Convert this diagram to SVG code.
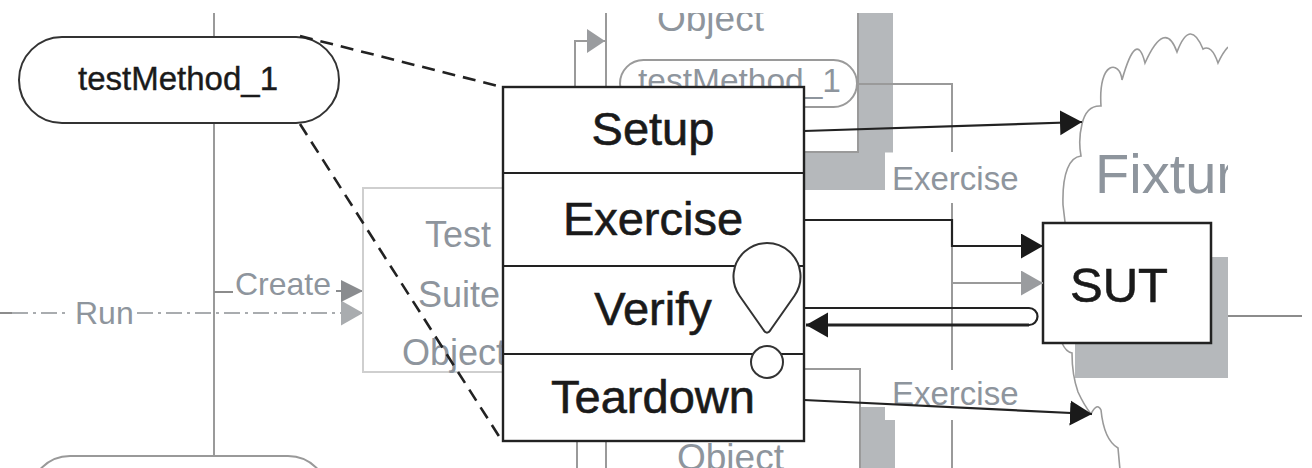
<svg xmlns="http://www.w3.org/2000/svg" width="1312" height="468" viewBox="0 0 1312 468">
<defs>
<style>
.dk{fill:none;stroke:#222;stroke-width:2.2}
.gl{fill:none;stroke:#9a9a9a;stroke-width:2}
.gt{font-family:"Liberation Sans",Arial,sans-serif;fill:#8e959d}
.bt{font-family:"Liberation Sans",Arial,sans-serif;fill:#1a1a1a;stroke:#1a1a1a;stroke-width:0.6}
.sh{fill:#b5b8bb}
.dash{fill:none;stroke:#222;stroke-width:2.6;stroke-dasharray:13 8}
</style>
<clipPath id="clip"><rect x="0" y="13" width="1228" height="455"/></clipPath>
<marker id="ah" markerUnits="userSpaceOnUse" markerWidth="23" markerHeight="26" refX="22" refY="12.5" orient="auto"><path d="M0,0 L22,12.5 L0,25 Z" fill="#1a1a1a"/></marker>
<marker id="ahg" markerUnits="userSpaceOnUse" markerWidth="23" markerHeight="26" refX="22" refY="12.5" orient="auto"><path d="M0,0 L22,12.5 L0,25 Z" fill="#9a9c9f"/></marker>
<marker id="ahc" markerUnits="userSpaceOnUse" markerWidth="23" markerHeight="24" refX="22" refY="11" orient="auto"><path d="M0,0 L22,11 L0,22 Z" fill="#8a8c8f"/></marker>
<marker id="ahr" markerUnits="userSpaceOnUse" markerWidth="23" markerHeight="26" refX="22" refY="12.5" orient="auto"><path d="M0,0 L22,12.5 L0,25 Z" fill="#a9acaf"/></marker>
<marker id="aht" markerUnits="userSpaceOnUse" markerWidth="19" markerHeight="25" refX="18" refY="12" orient="auto"><path d="M0,0 L18,12 L0,24 Z" fill="#9a9c9f"/></marker>
</defs>
<rect x="0" y="0" width="1312" height="468" fill="#fff"/>
<g clip-path="url(#clip)">
  <g id="background">
    <line class="gl" x1="214" y1="0" x2="214" y2="37" stroke="#8c8c8c"/>
    <line class="gl" x1="214" y1="123" x2="214" y2="456" stroke="#8c8c8c"/>
    <rect x="30" y="456" width="298" height="80" rx="40" fill="#fff" stroke="#999" stroke-width="2"/>
    <line x1="0" y1="313" x2="12" y2="313" stroke="#8c8c8c" stroke-width="2"/>
    <line x1="12" y1="313" x2="70" y2="313" stroke="#a9acaf" stroke-width="2" stroke-dasharray="16 5 3 5"/>
    <line x1="137" y1="313" x2="363" y2="313" stroke="#a9acaf" stroke-width="2" stroke-dasharray="16 5 3 5" marker-end="url(#ahr)"/>
    <text class="gt" x="75" y="324" font-size="32">Run</text>
    <line x1="214" y1="292" x2="233" y2="292" stroke="#8c8c8c" stroke-width="2"/>
    <text class="gt" x="235" y="295" font-size="32">Create</text>
    <line x1="336" y1="291" x2="363" y2="291" stroke="#8a8c8f" stroke-width="2" marker-end="url(#ahc)"/>
    <rect x="363" y="188" width="160" height="184" fill="#fff" stroke="#cfcfcf" stroke-width="2"/>
    <text class="gt" x="425" y="247" font-size="36">Test</text>
    <text class="gt" x="418" y="307" font-size="36">Suite</text>
    <text class="gt" x="402" y="365" font-size="36">Object</text>
    <rect class="sh" x="641" y="-12" width="252" height="202"/>
    <rect x="606" y="-50" width="252" height="202" fill="#fff" stroke="#9a9a9a" stroke-width="2"/>
    <text class="gt" x="657" y="31" font-size="37">Object</text>
    <path class="gl" d="M575,86 V41 H605" marker-end="url(#aht)"/>
    <rect x="620" y="60" width="237" height="47" rx="23.5" fill="#fff" stroke="#9a9a9a" stroke-width="2"/>
    <text class="gt" x="638" y="92" font-size="33.5">testMethod_1</text>
    <path class="gl" d="M857,84 H952 V152"/>
    <rect class="sh" x="641" y="407" width="254" height="200"/>
    <rect x="606" y="369" width="254" height="200" fill="#fff" stroke="#9a9a9a" stroke-width="2"/>
    <line class="gl" x1="577" y1="441" x2="577" y2="470"/>
    <text class="gt" x="677" y="470" font-size="37">Object</text>
    <rect x="885" y="152.5" width="140" height="50" fill="#fff"/>
    <rect x="885" y="370" width="140" height="50" fill="#fff"/>
    <line class="gl" x1="952" y1="203" x2="952" y2="370"/>
    <line class="gl" x1="952" y1="420" x2="952" y2="470"/>
    <text class="gt" x="892" y="190" font-size="33">Exercise</text>
    <text class="gt" x="892" y="405" font-size="33">Exercise</text>
    <path fill="none" stroke="#9a9a9a" stroke-width="1.6" d="M1228,47 Q1223,52 1218,63 Q1211.5,44 1203,49 Q1190,17.5 1177,52 Q1165,18.5 1145,63 Q1136.5,28.5 1122,80 C1120,60 1098,60 1101,106 Q1086.5,105 1082,124 Q1078,140 1081,156 C1070,157 1062,172 1063,205 L1065,222"/>
    <path fill="none" stroke="#9a9a9a" stroke-width="1.6" d="M1062,343 Q1066,352 1072,353 Q1072,375 1078,392 Q1084,405 1091,414 Q1097,402 1101,410 Q1104,440 1118,448 L1120,470"/>
    <text class="gt" x="1095" y="193" font-size="56">Fixture</text>
  </g>
  <g id="testMethod_1">
    <rect x="19" y="37" width="320" height="86" rx="43" fill="#fff" stroke="#333" stroke-width="2"/>
    <text class="bt" x="178" y="90" font-size="33" text-anchor="middle" style="stroke-width:0.4">testMethod_1</text>
  </g>
  <g id="connectors-dashed">
    <line class="dash" x1="300" y1="36" x2="502" y2="87"/>
    <line class="dash" x1="300" y1="124" x2="502" y2="441"/>
  </g>
  <g id="phases">
    <rect x="503" y="87" width="301" height="354" fill="#fff" stroke="#222" stroke-width="2.4"/>
    <line class="dk" x1="503" y1="173" x2="804" y2="173"/>
    <line class="dk" x1="503" y1="266" x2="804" y2="266"/>
    <line class="dk" x1="503" y1="354" x2="804" y2="354"/>
    <text class="bt" x="653" y="145" font-size="47" text-anchor="middle">Setup</text>
    <text class="bt" x="653" y="235" font-size="47" text-anchor="middle">Exercise</text>
    <text class="bt" x="653" y="325" font-size="47" text-anchor="middle">Verify</text>
    <text class="bt" x="653" y="413" font-size="47" text-anchor="middle">Teardown</text>
    <path d="M739.5,295.7 A33.5,33.5 0 1 1 794.5,295.7 L771,329.3 Q767,336 763,329.3 Z" fill="#fff" stroke="#333" stroke-width="2"/>
    <circle cx="767" cy="362" r="16" fill="#fff" stroke="#333" stroke-width="2"/>
  </g>
  <g id="SUT">
    <rect class="sh" x="1075" y="257" width="170" height="121"/>
    <rect x="1043" y="223" width="168" height="120" fill="#fff" stroke="#222" stroke-width="2.5"/>
    <text class="bt" x="1070" y="302" font-size="49">SUT</text>
  </g>
  <g id="connectors">
    <line class="dk" x1="804" y1="131" x2="1082" y2="122" marker-end="url(#ah)"/>
    <path class="dk" d="M804,220 H952 V246 H1043" marker-end="url(#ah)"/>
    <path d="M952,283 H1043" fill="none" stroke="#9a9a9a" stroke-width="2" marker-end="url(#ahg)"/>
    <path class="dk" d="M804,308 H1029 A8.5,8.5 0 0 1 1029,325"/>
    <path d="M1029,325 H806" fill="none" stroke="#222" stroke-width="3" marker-end="url(#ah)"/>
    <line class="dk" x1="804" y1="400" x2="1092" y2="414" marker-end="url(#ah)"/>
  </g>
</g>
<line x1="1228" y1="316" x2="1302" y2="316" stroke="#8c8c8c" stroke-width="2"/>
</svg>
